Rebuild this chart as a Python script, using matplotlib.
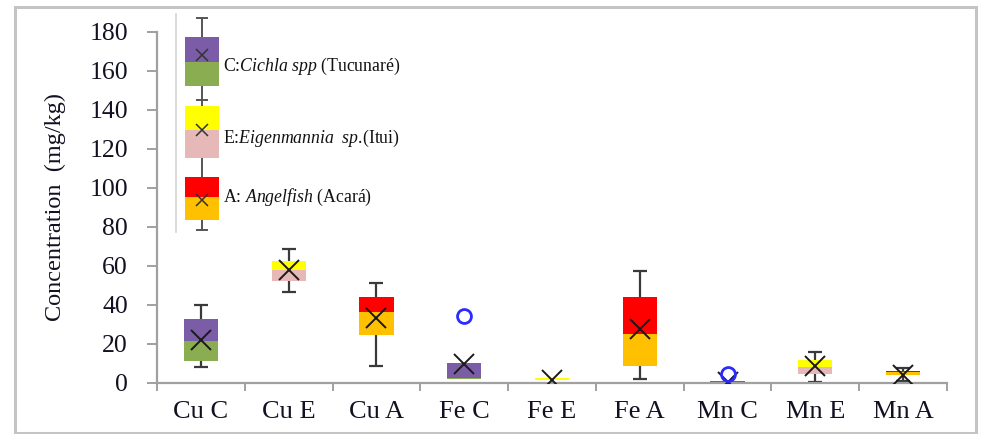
import matplotlib
matplotlib.use("Agg")
import matplotlib.pyplot as plt
from matplotlib.patches import Rectangle
from matplotlib.lines import Line2D

plt.rcParams["font.family"] = ["Liberation Serif", "DejaVu Serif"]
plt.rcParams["mathtext.fontset"] = "custom"
plt.rcParams["mathtext.rm"] = "Liberation Serif"
plt.rcParams["mathtext.it"] = "Liberation Serif:italic"

# Box-plot summary per metal / species (mg/kg)
categories = ["Cu C", "Cu E", "Cu A", "Fe C", "Fe E", "Fe A", "Mn C", "Mn E", "Mn A"]
species = ["C", "E", "A", "C", "E", "A", "C", "E", "A"]
whisker_low = [8.2, 46.7, 8.7, 1.9, 1.3, 1.7, 0.1, 0.4, 1.0]
q1 = [10.9, 52.3, 24.4, 1.9, 1.3, 8.7, 0.2, 4.4, 4.2]
median = [21.2, 57.8, 36.4, 2.6, 1.3, 25.0, 0.5, 7.9, 5.3]
q3 = [32.6, 62.6, 44.1, 9.9, 2.3, 44.1, 0.9, 11.6, 6.2]
whisker_high = [40.0, 68.5, 50.9, 9.9, 2.3, 57.1, 0.9, 15.5, 7.3]
means = [22.0, 57.8, 33.2, 9.6, 1.5, 27.5, 0.6, 8.6, 3.8]
outlier_cats = ["Fe C", "Mn C"]
outlier_vals = [34.4, 4.4]

# lower half (Q1-median) and upper half (median-Q3) colours per species
lower_color = {"C": "#8aad52", "E": "#e6b9b8", "A": "#ffc000"}
upper_color = {"C": "#7b5ca6", "E": "#ffff00", "A": "#ff0000"}

W, H = 987, 434
fig = plt.figure(figsize=(W / 100, H / 100), dpi=100)

# outer chart frame
fig.patches.append(Rectangle((15 / W, 1 / H), 961 / W, 426 / H, transform=fig.transFigure,
                             fill=False, edgecolor="#c4c4c4", linewidth=2.2))

x0, x1, yb, yt = 157, 947, 382.7, 31.5
ax = fig.add_axes([x0 / W, (H - yb) / H, (x1 - x0) / W, (yb - yt) / H])
ax.set_xlim(-0.5, len(categories) - 0.5)
ax.set_ylim(0, 180)

axis_gray = "#a0a0a0"
text_col = "#111122"
for s in ("top", "right"):
    ax.spines[s].set_visible(False)
for s in ("left", "bottom"):
    ax.spines[s].set_color(axis_gray)
    ax.spines[s].set_linewidth(1.6)

ax.set_yticks(range(0, 181, 20))
ax.tick_params(axis="y", direction="out", length=7, width=1.4, color=axis_gray,
               labelsize=18.5, pad=14, labelcolor=text_col)
ax.set_xticks(range(len(categories)))
ax.set_xticklabels(categories)
ax.tick_params(axis="x", which="major", length=0, labelsize=19, pad=13, labelcolor=text_col)
ax.set_xticks([i - 0.5 for i in range(len(categories) + 1)], minor=True)
ax.tick_params(axis="x", which="minor", direction="out", length=6, width=1.4, color=axis_gray)

ax.set_ylabel("Concentration  (mg/kg)", fontsize=17.5, labelpad=17, color=text_col)

bw = 0.39
cw = 0.16
wcol = "#3a3a3a"
for i, sp in enumerate(species):
    if whisker_high[i] > q3[i]:
        ax.vlines(i, q3[i], whisker_high[i], color=wcol, lw=1.6, zorder=2)
        ax.hlines(whisker_high[i], i - cw / 2, i + cw / 2, color=wcol, lw=1.6, zorder=2)
    if whisker_low[i] < q1[i]:
        ax.vlines(i, whisker_low[i], q1[i], color=wcol, lw=1.6, zorder=2)
        ax.hlines(whisker_low[i], i - cw / 2, i + cw / 2, color=wcol, lw=1.6, zorder=2)
    if median[i] > q1[i]:
        ax.bar(i, median[i] - q1[i], bottom=q1[i], width=bw, color=lower_color[sp], zorder=3)
    ax.bar(i, q3[i] - median[i], bottom=median[i], width=bw, color=upper_color[sp], zorder=3)

ax.plot(range(len(categories)), means, linestyle="none", marker="x", markersize=14,
        markeredgewidth=1.4, color="#1a1a1a", zorder=4)
ax.plot([categories.index(c) for c in outlier_cats], outlier_vals, linestyle="none",
        marker="o", markersize=10, markerfacecolor="none", markeredgecolor="#2b2bff",
        markeredgewidth=2, zorder=4)

# species key, drawn in figure pixels
lg = fig.add_axes([0, 0, 1, 1], zorder=5)
lg.set_xlim(0, W)
lg.set_ylim(H, 0)
lg.axis("off")
lg.add_line(Line2D([176, 176], [14, 232], color="#d4d4d4", lw=1.2, zorder=1))
lg.add_line(Line2D([202, 202], [18, 230], color="#555555", lw=1.4, zorder=1))
for yc in (18, 100, 230):
    lg.add_line(Line2D([197, 207], [yc, yc], color="#555555", lw=1.4, zorder=1))
key = [("C", 37, 62, 86, 55, 66, r"C:$\mathit{Cichla\ spp}$ (Tucunaré)"),
       ("E", 106, 130, 158, 130, 138, r"E:$\mathit{Eigenmannia\ \ sp}$.(Itui)"),
       ("A", 177, 197, 220, 200, 197, r"A: $\mathit{Angelfish}$ (Acará)")]
for sp, top, mid, bot, ym, yt_, label in key:
    lg.add_patch(Rectangle((185, top), 34, mid - top, color=upper_color[sp], lw=0, zorder=2))
    lg.add_patch(Rectangle((185, mid), 34, bot - mid, color=lower_color[sp], lw=0, zorder=2))
    lg.plot([202], [ym], marker="x", markersize=9, markeredgewidth=1.1, color="#333333", zorder=3)
    lg.text(223, yt_, label, fontsize=12.8, va="center", ha="left", color="#111111")

fig.savefig("out.png", dpi=100)
